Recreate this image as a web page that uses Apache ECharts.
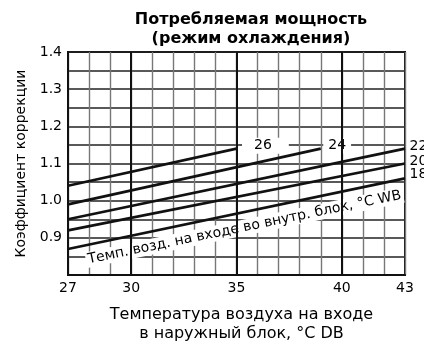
<!DOCTYPE html>
<html>
<head>
<meta charset="utf-8">
<script src="https://cdn.jsdelivr.net/npm/echarts@6/dist/echarts.min.js"></script>
<style>html,body{margin:0;padding:0;background:#fff}#c{width:424px;height:344px}</style>
</head>
<body>
<div id="c"></div>
<script>
// Data
const xTickLabels = [27, 30, 35, 40, 43];
const yTickLabels = [0.9, 1.0, 1.1, 1.2, 1.3, 1.4];
const majorX = [30, 35, 40];
const curveNames = ['26', '24', '22', '20', '18'];
const xStart = [27, 27, 27, 27, 27];
const xEnd = [35, 39, 43, 43, 43];
const yStart = [1.04, 0.99, 0.95, 0.92, 0.87];
const yEnd = [1.14, 1.14, 1.14, 1.10, 1.06];

const FONT = '"DejaVu Sans", "Liberation Sans", Arial, sans-serif';
const chart = echarts.init(document.getElementById('c'));

const labelStyles = [
  {distance: 5, padding: [2, 17, 0, 12], backgroundColor: '#fff', offset: [0, -3]},
  {distance: 2, padding: [2, 5, 0, 5], backgroundColor: '#fff', offset: [0, -3]},
  {distance: 4, padding: 0, offset: [0, -2]},
  {distance: 4, padding: 0, offset: [0, -2]},
  {distance: 4, padding: 0, offset: [0, -4]}
];

const series = curveNames.map((n, i) => ({
  type: 'line',
  name: n,
  z: 3,
  symbol: 'circle',
  symbolSize: 1,
  showSymbol: true,
  silent: true,
  itemStyle: {color: 'rgba(0,0,0,0)'},
  lineStyle: {color: '#111', width: 2.6},
  label: {show: false},
  data: [
    [xStart[i], yStart[i]],
    {value: [xEnd[i], yEnd[i]], label: Object.assign({
      show: true, position: 'right', formatter: n,
      fontFamily: FONT, fontSize: 14, color: '#000'
    }, labelStyles[i])}
  ]
}));

series.push({
  type: 'line',
  z: 1,
  data: [],
  silent: true,
  markLine: {
    silent: true,
    symbol: 'none',
    label: {show: false},
    lineStyle: {color: '#111', width: 2, type: 'solid'},
    data: majorX.map(v => ({xAxis: v}))
  }
});

chart.setOption({
  animation: false,
  backgroundColor: '#fff',
  title: {
    text: 'Потребляемая мощность\n(режим охлаждения)',
    left: 246, top: 5, textAlign: 'center',
    textStyle: {fontFamily: FONT, fontSize: 16, fontWeight: 'bold', color: '#000', lineHeight: 19}
  },
  grid: {left: 68, right: 19, top: 52, bottom: 69, containLabel: false, outerBoundsMode: 'none'},
  xAxis: {
    type: 'value', min: 27, max: 43, interval: 1,
    name: 'Температура воздуха на входе\nв наружный блок, °C DB',
    nameLocation: 'middle', nameGap: 30,
    nameTextStyle: {fontFamily: FONT, fontSize: 16, color: '#000', lineHeight: 19, padding: [0, 0, 0, 10], verticalAlign: 'top'},
    axisLine: {show: true, lineStyle: {color: '#111', width: 2}},
    axisTick: {show: false},
    axisLabel: {
      fontFamily: FONT, fontSize: 14, color: '#000', margin: 6,
      formatter: v => xTickLabels.includes(v) ? String(v) : ''
    },
    splitLine: {show: true, lineStyle: {color: '#777', width: 1.4}}
  },
  yAxis: {
    type: 'value', min: 0.8, max: 1.4, interval: 0.05,
    name: 'Коэффициент коррекции',
    nameLocation: 'middle', nameGap: 37, nameRotate: 90,
    nameTextStyle: {fontFamily: FONT, fontSize: 14, color: '#000'},
    axisLine: {show: true, lineStyle: {color: '#111', width: 2}},
    axisTick: {show: false},
    axisLabel: {
      fontFamily: FONT, fontSize: 14, color: '#000', margin: 6,
      formatter: v => {
        const r = Math.round(v * 100) / 100;
        return yTickLabels.some(t => Math.abs(t - r) < 1e-6) ? r.toFixed(1) : '';
      }
    },
    splitLine: {show: true, lineStyle: {color: '#222', width: 1.5}}
  },
  graphic: [
    {
      type: 'rect', z: 0, silent: true,
      shape: {x: 68, y: 52, width: 337, height: 223},
      style: {fill: 'none', stroke: '#111', lineWidth: 2}
    },
    {
      type: 'text', z: 2, silent: true,
      x: 244.5, y: 227.5,
      rotation: 11.66 * Math.PI / 180,
      style: {
        text: 'Темп. возд. на входе во внутр. блок, °C WB',
        font: '14px ' + FONT,
        fill: '#000',
        align: 'center', verticalAlign: 'middle',
        textAlign: 'center', textVerticalAlign: 'middle',
        backgroundColor: '#fff', padding: [1, 2]
      }
    }
  ],
  series: series
});
</script>
</body>
</html>
